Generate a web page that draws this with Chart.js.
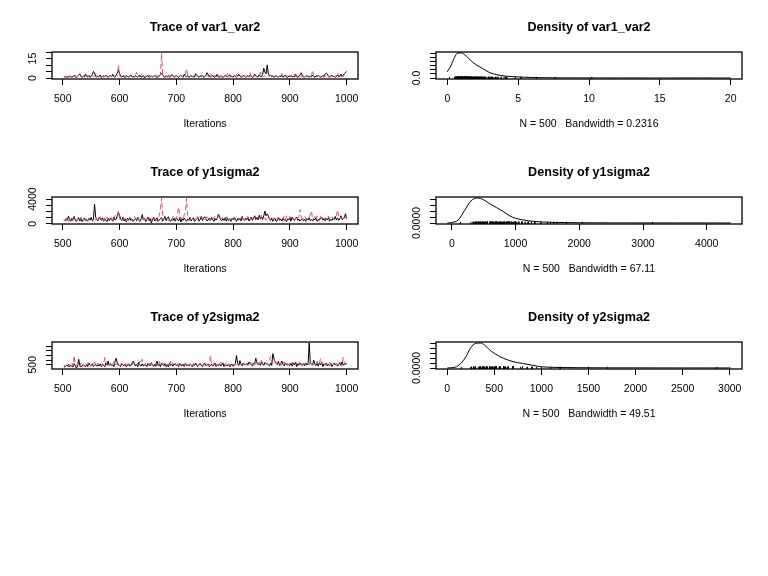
<!DOCTYPE html>
<html><head><meta charset="utf-8">
<script src="https://cdn.jsdelivr.net/npm/chart.js@4.4.1/dist/chart.umd.min.js"></script>
<style>
html,body{margin:0;padding:0;background:#fff;}
body{width:768px;height:576px;position:relative;overflow:hidden;}
canvas{position:absolute;}
</style></head><body>
<script>
// ---------- data ----------
const iterStart = 501, iterEnd = 1000;
const iterations = Array.from({length:250}, (_, k) => 502 + 2*k);

const var1Chain1 = [
 1.2,0.8,1.5,0.6,1.0,1.9,0.7,1.3,0.9,2.1,
 1.1,0.5,1.4,2.4,3.4,1.2,0.8,1.6,1.0,3.2,
 1.5,0.9,2.2,0.7,1.3,2.6,5.2,4.1,1.4,0.8,
 1.7,1.1,2.5,0.6,1.2,1.9,0.9,2.3,1.4,0.7,
 1.6,2.1,1.0,3.0,1.3,0.8,2.4,3.8,6.3,3.5,
 1.4,0.9,1.8,1.1,0.6,2.2,1.3,0.8,1.7,2.6,
 1.0,1.5,0.7,2.0,1.2,0.9,1.6,2.4,0.8,1.3,
 1.9,0.15,1.1,1.4,2.1,0.7,1.2,1.8,0.9,1.5,
 2.3,1.0,0.6,1.4,1.9,2.7,3.6,2.4,1.1,0.8,
 1.5,1.2,2.0,0.7,1.3,2.8,1.6,0.9,1.4,2.2,
 1.0,0.6,1.7,2.5,1.2,0.8,3.1,1.5,1.1,1.9,
 0.7,1.3,2.2,1.0,1.6,0.9,3.4,2.1,1.2,0.8,
 1.8,1.1,2.5,0.6,1.4,2.0,4.2,2.9,1.3,0.9,
 1.5,2.3,1.0,0.7,1.6,2.9,1.2,0.8,1.9,1.1,
 0.6,1.4,2.1,1.3,0.9,1.7,2.7,1.0,1.5,0.8,
 2.0,1.2,0.7,1.6,3.0,1.4,0.9,1.1,2.2,1.6,
 0.8,1.3,1.9,1.0,2.4,1.2,0.7,1.5,3.2,1.8,
 1.1,0.9,2.6,1.4,1.0,3.1,7.6,4.8,3.3,10.2,
 3.8,1.6,2.4,1.0,1.8,0.7,1.3,2.1,1.1,0.9,
 1.6,1.2,2.0,0.8,1.4,2.5,1.0,0.6,1.7,1.3,
 2.2,0.9,1.5,1.1,2.9,1.3,0.7,1.8,2.6,4.1,
 1.7,1.1,0.8,1.5,2.0,1.2,0.9,1.6,1.0,2.3,
 1.3,0.7,1.8,1.1,2.4,1.4,0.8,1.2,2.0,1.5,
 3.0,4.0,3.2,1.2,0.9,1.7,2.3,1.1,1.5,0.8,
 1.4,2.1,1.0,1.6,3.1,1.3,2.4,3.5,4.2,5.2];
const var1Chain2 = [
 0.9,1.5,0.7,1.2,2.1,0.8,1.4,1.0,1.9,1.1,
 2.6,0.6,1.3,1.8,1.0,2.2,0.9,1.5,1.2,0.7,
 1.7,2.4,1.1,0.8,1.4,2.0,0.9,1.6,1.2,2.8,
 0.8,1.3,1.0,1.9,2.3,0.7,1.5,1.1,1.8,0.9,
 1.4,2.1,1.0,1.6,0.8,1.2,2.5,1.5,10.1,2.2,
 1.0,1.6,0.7,2.3,1.3,1.1,0.9,1.8,1.4,2.0,
 1.2,0.8,1.5,2.6,4.5,1.1,0.9,1.7,2.2,4.0,
 1.3,0.9,1.8,1.2,0.7,2.5,1.4,1.0,1.6,0.8,
 1.9,1.2,2.4,1.4,0.9,2.8,19.3,2.6,1.1,1.5,
 1.9,0.7,1.3,2.6,1.0,1.6,3.3,1.2,0.8,2.0,
 1.4,0.9,1.7,2.3,1.1,1.5,2.0,3.0,7.4,2.4,
 1.5,0.9,2.2,1.3,0.6,1.8,1.1,2.5,1.0,1.4,
 0.8,1.6,2.1,1.2,0.9,1.7,2.4,1.0,1.5,4.2,
 1.0,1.6,0.8,2.4,1.2,1.4,0.9,2.0,1.3,1.1,
 1.7,0.8,2.2,1.3,3.8,1.1,0.7,1.9,1.4,1.0,
 1.9,1.4,2.8,0.9,1.5,1.2,2.0,0.8,1.6,1.1,
 2.3,1.0,1.4,0.9,4.1,1.2,2.0,0.8,1.5,1.8,
 1.3,0.9,2.2,4.6,1.6,0.7,1.4,2.0,1.1,1.7,
 0.9,1.5,2.4,1.2,0.8,1.6,1.3,2.1,0.9,1.4,
 1.1,2.2,3.6,1.1,2.3,0.9,1.7,1.2,2.6,1.0,
 1.5,0.8,1.9,3.0,1.2,1.0,1.6,2.2,0.9,1.4,
 1.2,2.6,1.0,1.5,0.8,1.9,1.3,1.1,2.0,6.1,
 1.8,1.2,0.7,1.6,2.1,1.0,1.4,2.9,1.1,0.8,
 1.6,1.3,2.4,1.0,1.5,0.9,2.0,1.2,1.7,0.7,
 2.1,4.3,1.4,2.9,1.0,1.6,1.1,2.0,1.3,1.8];

const y1Chain1 = [
 620,480,850,560,1250,700,420,900,650,1200,
 560,380,720,1000,460,820,350,600,940,530,
 700,410,880,620,1050,500,760,3150,1100,640,
 480,1050,900,560,1000,420,780,600,350,880,
 520,940,680,430,1100,600,750,1300,1800,1400,
 700,520,1050,460,810,330,900,620,1000,550,
 760,420,680,900,500,1100,560,380,820,1500,
 640,930,370,680,1100,500,880,135,640,1050,
 450,720,980,390,600,850,1000,430,690,1200,
 530,900,1150,620,380,760,560,900,420,1000,
 700,480,1000,300,820,560,940,650,420,780,
 600,1050,450,720,980,390,600,850,1000,430,
 690,1200,530,900,1150,800,480,620,940,560,
 1020,700,390,860,600,910,1550,1200,700,480,
 820,560,1000,440,980,560,730,380,900,650,
 1020,700,390,860,600,910,480,1200,700,540,
 880,620,1000,450,760,1100,560,900,1300,700,
 980,640,1400,820,1100,700,1300,2050,1300,1600,
 1300,820,540,960,410,700,880,350,620,1000,
 560,780,430,900,560,700,340,820,620,980,
 450,1100,700,520,880,1100,560,760,420,680,
 900,500,740,380,860,620,1000,540,700,450,
 820,640,980,400,700,560,900,1100,620,780,
 500,880,640,1000,420,760,560,900,680,1200,
 620,940,560,800,1300,700,880,1000,1650,750];
const y1Chain2 = [
 400,700,520,950,380,620,830,450,600,1000,
 700,520,880,400,650,1100,500,780,560,900,
 640,430,800,1000,520,720,400,880,600,1000,
 540,760,1200,900,620,480,950,700,1100,560,
 820,650,1000,480,900,1300,1700,1500,2050,900,
 560,430,800,640,1000,520,720,400,880,1000,
 540,760,1200,900,650,1100,700,520,950,800,
 600,950,1100,700,880,560,1000,640,760,1200,
 900,520,700,1000,1300,2400,4175,1300,600,950,
 1100,700,520,880,1000,640,1200,800,560,900,
 1500,2700,1300,800,1000,700,1500,2000,4100,1000,
 650,500,1100,880,600,750,1000,1300,900,1100,
 1200,1300,800,1000,560,900,1150,700,500,900,
 600,1050,800,1200,950,700,1250,1100,650,900,
 1000,580,830,1150,700,500,880,650,1000,760,
 600,900,1100,850,1000,700,950,1200,600,800,
 1000,750,1200,900,1100,700,800,1000,1150,1250,
 900,1100,800,1200,1350,900,700,1000,580,830,
 1150,700,500,880,650,1000,760,600,900,1100,
 850,1000,700,950,1200,600,1300,1000,750,1200,
 900,1100,800,700,1000,650,900,1200,2300,1100,
 850,1000,1300,760,600,900,1100,1500,2100,700,
 950,1200,600,1300,1000,750,1200,900,1100,800,
 1000,700,900,1250,850,600,1100,950,700,1000,
 1400,2250,1300,900,1100,800,1000,700,1200,800];

const y2Chain1 = [
 300,250,420,380,520,280,450,340,260,620,
 380,150,300,1100,450,260,340,520,400,300,
 560,300,700,450,380,600,300,420,520,350,
 450,380,600,300,520,420,280,700,450,900,
 380,600,420,500,300,850,1200,700,480,420,
 300,640,500,380,560,280,460,600,350,480,
 520,900,600,360,560,280,780,430,350,610,
 350,520,470,300,650,520,380,700,460,300,
 560,330,900,420,550,280,700,480,380,620,
 300,500,260,700,420,560,350,480,620,400,
 520,300,650,450,380,560,300,700,420,480,
 350,600,450,280,520,380,700,420,300,560,
 640,400,300,520,700,380,450,600,300,420,
 560,350,480,700,300,520,420,600,380,460,
 700,300,520,450,380,600,280,480,560,350,
 420,620,1500,700,420,950,560,380,700,520,
 480,620,450,800,600,500,380,700,560,1200,
 700,500,620,450,800,600,420,700,560,650,
 500,380,700,420,1700,1200,800,700,500,850,
 420,650,900,520,380,700,480,600,520,420,
 650,350,700,480,800,300,600,450,700,520,
 420,650,380,700,480,600,2862,700,560,480,
 1000,520,420,650,350,700,480,800,300,600,
 450,700,380,560,420,650,300,520,700,480,
 600,350,520,700,420,800,450,600,520,700];
const y2Chain2 = [
 500,300,420,600,280,520,400,700,350,1500,
 420,300,600,520,280,700,400,550,340,600,
 450,700,380,500,320,650,420,800,500,360,
 700,430,550,400,620,500,1300,800,420,520,
 360,700,500,450,850,380,600,500,700,350,
 560,450,600,400,650,480,720,380,600,450,
 800,520,700,600,420,750,500,900,650,1100,
 550,400,700,460,350,620,500,800,420,520,
 360,700,500,450,850,380,600,500,700,350,
 560,450,600,400,900,480,720,380,600,450,
 520,700,400,600,450,560,380,650,500,720,
 420,600,500,380,700,450,560,620,400,520,
 650,480,380,600,520,700,420,560,480,1500,
 600,400,650,480,720,380,600,450,800,520,
 700,600,420,750,500,560,380,650,480,600,
 420,700,500,600,380,720,450,560,650,480,
 520,700,600,450,800,560,700,420,600,900,
 650,500,800,600,1000,700,560,800,600,750,
 900,1000,1400,800,650,1100,750,450,850,520,
 700,400,650,500,800,560,700,420,600,700,
 500,800,450,650,520,700,600,900,500,650,
 420,600,700,560,560,700,500,800,450,650,
 520,700,600,900,500,650,1200,600,800,560,
 480,700,600,520,800,450,650,700,560,600,
 500,700,600,800,520,650,1300,700,560,900];

// density curves
const var1DensX = [0,0.25,0.5,0.75,1.0,1.25,1.5,1.75,2.0,2.5,3.0,3.5,4.0,5,6,7,8,10,12,15,18,20];
const var1DensY = [0.15,0.30,0.50,0.61,0.61,0.56,0.48,0.40,0.33,0.23,0.13,0.08,0.05,0.025,0.012,0.006,0.004,0.002,0.001,0.0005,0.0008,0.0003];
const y1DensX = [-70,0,100,200,300,400,500,600,700,800,900,1000,1200,1400,1600,2000,2500,3000,3500,4000,4375];
const y1DensY = [0,0.00004,0.00025,0.00105,0.00185,0.0021,0.00195,0.0016,0.0013,0.00099,0.00063,0.0004,0.00019,0.00009,0.00005,0.00002,0.00001,0.000006,0.000004,0.000004,0.000002];
const y2DensX = [2,50,100,150,200,250,300,350,400,450,500,600,700,800,900,1000,1100,1200,1400,1700,2000,2500,3010];
const y2DensY = [0,0.00003,0.00013,0.00052,0.00117,0.00208,0.00252,0.00257,0.00234,0.00187,0.00151,0.00099,0.00065,0.00047,0.00029,0.00013,0.00008,0.00005,0.00003,0.000016,0.000013,0.000008,0.000005];

// ticks and labels
const traceXTicks = [500,600,700,800,900,1000];
const var1TraceYTicks = [0,5,10,15,20];
const var1TraceYLabels = {0:'0', 15:'15'};
const y1TraceYTicks = [0,1000,2000,3000,4000];
const y1TraceYLabels = {0:'0', 4000:'4000'};
const y2TraceYTicks = [500,1000,1500,2000,2500];
const y2TraceYLabels = {500:'500'};
const var1DensXTicks = [0,5,10,15,20];
const y1DensXTicks = [0,1000,2000,3000,4000];
const y2DensXTicks = [0,500,1000,1500,2000,2500,3000];
const var1DensYTicks = [0,0.1,0.2,0.3,0.4,0.5,0.6];
const y1DensYTicks = [0,0.0005,0.001,0.0015,0.002];
const y2DensYTicks = [0,0.0005,0.001,0.0015,0.002,0.0025];
const densYLabel1 = {0:'0.0'};
const densYLabel2 = {0:'0.0000'};

const traceTitles = ['Trace of var1_var2','Trace of y1sigma2','Trace of y2sigma2'];
const densTitles = ['Density of var1_var2','Density of y1sigma2','Density of y2sigma2'];
const densSubs = ['N = 500   Bandwidth = 0.2316','N = 500   Bandwidth = 67.11','N = 500   Bandwidth = 49.51'];

// ---------- drawing ----------
const FONT = "'Liberation Sans', Arial, Helvetica, sans-serif";
const RED = '#DF536B';
const PW = 384, PH = 145;

function ext(lo, hi){ const r = hi - lo; return [lo - 0.04*r, hi + 0.04*r]; }

function panelPlugin(title, xlab, yLabels){
  return {
    id: 'rpanel',
    afterDraw(chart){
      const ctx = chart.ctx, a = chart.chartArea, ys = chart.scales.y;
      ctx.save();
      ctx.setLineDash([]);
      ctx.strokeStyle = '#000';
      ctx.lineWidth = 1.3;
      ctx.strokeRect(Math.round(a.left), Math.round(a.top), Math.round(a.right - a.left), Math.round(a.bottom - a.top));
      ctx.fillStyle = '#000';
      ctx.textAlign = 'center';
      ctx.textBaseline = 'alphabetic';
      const cx = (a.left + a.right)/2;
      ctx.font = 'bold 12.6px ' + FONT;
      ctx.fillText(title, cx, 31);
      ctx.font = '10.5px ' + FONT;
      ctx.fillText(xlab, cx, 127);
      Object.keys(yLabels).forEach(k => {
        const py = ys.getPixelForValue(Number(k));
        ctx.save();
        ctx.translate(36, py);
        ctx.rotate(-Math.PI/2);
        ctx.fillText(yLabels[k], 0, 0);
        ctx.restore();
      });
      ctx.restore();
    }
  };
}

function makeChart(col, row, datasets, xr, yr, xTicks, yTicks, title, xlab, yLabels){
  const cv = document.createElement('canvas');
  cv.width = PW; cv.height = PH;
  cv.style.left = (col*PW) + 'px';
  cv.style.top = (row*PH) + 'px';
  cv.style.width = PW + 'px'; cv.style.height = PH + 'px';
  document.body.appendChild(cv);
  new Chart(cv, {
    type: 'line',
    data: { datasets },
    options: {
      responsive: false, animation: false, devicePixelRatio: 1,
      layout: { padding: { left: 0, top: 52, right: 26, bottom: 0 } },
      plugins: { legend: {display:false}, tooltip: {enabled:false}, title: {display:false} },
      elements: { point: { radius: 0 } },
      scales: {
        x: {
          type: 'linear', min: xr[0], max: xr[1],
          afterBuildTicks: s => { s.ticks = xTicks.map(v => ({value: v})); },
          afterFit: s => { s.height = PH - 79; },
          grid: { drawOnChartArea: false, drawTicks: true, tickLength: 6, tickColor: '#000', lineWidth: 1 },
          border: { display: false },
          ticks: { padding: 8, color: '#000', font: { family: FONT, size: 10.5 }, maxRotation: 0, minRotation: 0, autoSkip: false, callback: v => String(v) }
        },
        y: {
          type: 'linear', min: yr[0], max: yr[1],
          afterBuildTicks: s => { s.ticks = yTicks.map(v => ({value: v})); },
          afterFit: s => { s.width = 52; },
          grid: { drawOnChartArea: false, drawTicks: true, tickLength: 6, tickColor: '#000', lineWidth: 1 },
          border: { display: false },
          ticks: { display: false }
        }
      }
    },
    plugins: [panelPlugin(title, xlab, yLabels)]
  });
}

function traceSets(c1, c2){
  return [
    { data: iterations.map((x,i) => ({x, y: c2[i]})), borderColor: RED, borderWidth: 1, borderDash: [5,3], pointRadius: 0, tension: 0, order: 0 },
    { data: iterations.map((x,i) => ({x, y: c1[i]})), borderColor: '#000', borderWidth: 1, pointRadius: 0, tension: 0, order: 1 }
  ];
}
function densSets(dx, dy, rug){
  return [
    { data: dx.map((x,i) => ({x, y: dy[i]})), borderColor: '#000', borderWidth: 1, pointRadius: 0, cubicInterpolationMode: 'monotone', order: 0 },
    { data: rug.map(x => ({x, y: 0})), showLine: false, pointStyle: 'line', rotation: 90, pointRadius: 1.2, borderColor: '#000', borderWidth: 1, order: 1 }
  ];
}

const xTraceRange = ext(iterStart, iterEnd);
const traces = [[var1Chain1, var1Chain2, var1TraceYTicks, var1TraceYLabels],
                [y1Chain1, y1Chain2, y1TraceYTicks, y1TraceYLabels],
                [y2Chain1, y2Chain2, y2TraceYTicks, y2TraceYLabels]];
traces.forEach((t, r) => {
  const all = t[0].concat(t[1]);
  makeChart(0, r, traceSets(t[0], t[1]), xTraceRange, ext(Math.min(...all), Math.max(...all)),
            traceXTicks, t[2], traceTitles[r], 'Iterations', t[3]);
});

const dens = [[var1DensX, var1DensY, var1Chain1, var1DensXTicks, var1DensYTicks, densYLabel1],
              [y1DensX, y1DensY, y1Chain1, y1DensXTicks, y1DensYTicks, densYLabel2],
              [y2DensX, y2DensY, y2Chain1, y2DensXTicks, y2DensYTicks, densYLabel2]];
dens.forEach((d, r) => {
  const xr = ext(d[0][0], d[0][d[0].length-1]);
  const yr = ext(0, Math.max(...d[1]));
  makeChart(1, r, densSets(d[0], d[1], d[2]), xr, yr, d[3], d[4], densTitles[r], densSubs[r], d[5]);
});
</script>
</body></html>
